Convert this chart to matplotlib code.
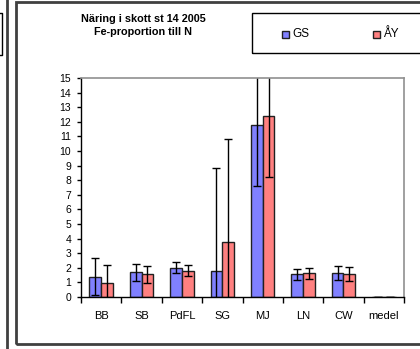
import matplotlib
matplotlib.use("Agg")
import matplotlib.pyplot as plt
from matplotlib.patches import Rectangle
from matplotlib.lines import Line2D
import numpy as np

plt.rcParams['font.family'] = ['Liberation Sans', 'DejaVu Sans']

categories = ["BB", "SB", "PdFL", "SG", "MJ", "LN", "CW", "medel"]
gs_values = [1.40, 1.70, 2.00, 1.78, 11.78, 1.55, 1.64, 0.02]
gs_err = [1.27, 0.57, 0.37, 7.08, 4.18, 0.40, 0.50, 0.0]
ay_values = [0.95, 1.55, 1.80, 3.77, 12.38, 1.62, 1.58, 0.02]
ay_err = [1.25, 0.57, 0.38, 7.05, 4.16, 0.40, 0.48, 0.0]
series_names = ["GS", "ÅY"]
title_lines = ["Näring i skott st 14 2005", "Fe-proportion till N"]

W, H = 420, 349
fig = plt.figure(figsize=(W / 100, H / 100), dpi=100)
fig.patch.set_facecolor("white")

def fx(px):
    return px / W

def fy(py):
    return 1 - py / H

# surrounding frames
frame_col = "#404040"
fig.add_artist(Rectangle((fx(15.5), fy(344)), fx(440 - 15.5), fy(1.5) - fy(344),
                         transform=fig.transFigure, fill=False, ec=frame_col, lw=2))
fig.add_artist(Line2D([fx(6.5), fx(6.5)], [0, 1], transform=fig.transFigure,
                      color=frame_col, lw=2))
fig.add_artist(Line2D([fx(-5), fx(2), fx(2), fx(-5)], [fy(13), fy(13), fy(54.5), fy(54.5)],
                      transform=fig.transFigure, color="black", lw=1))

# plot area
L, T, R, B = 81, 78, 404, 297
ax = fig.add_axes([fx(L), fy(B), fx(R - L), fy(T) - fy(B)])

x = np.arange(len(categories))
w = 0.29
blue = "#8080FF"
red = "#FF8080"
ekw = dict(ecolor="black", elinewidth=1, capsize=3, capthick=1)
ax.bar(x - w / 2, gs_values, w, yerr=gs_err, color=blue, edgecolor="#202020",
       linewidth=1, error_kw=ekw, label=series_names[0])
ax.bar(x + w / 2, ay_values, w, yerr=ay_err, color=red, edgecolor="#202020",
       linewidth=1, error_kw=ekw, label=series_names[1])

ax.set_xlim(-0.5, len(categories) - 0.5)
ax.set_ylim(0, 15)
ax.set_yticks(range(0, 16))
ax.set_xticks(np.arange(-0.5, len(categories)), minor=False)
ax.set_xticklabels([])
ax.set_xticks(x, minor=True)
ax.set_xticklabels(categories, minor=True)
ax.tick_params(axis="x", which="major", direction="out", length=4, width=1, color="black")
ax.tick_params(axis="x", which="minor", length=0, pad=10, labelsize=8)
ax.tick_params(axis="y", direction="out", length=3, width=1, labelsize=7.5, pad=4)

for s in ("top", "right"):
    ax.spines[s].set_color("#909090")
    ax.spines[s].set_linewidth(1.2)
for s in ("left", "bottom"):
    ax.spines[s].set_color("black")
    ax.spines[s].set_linewidth(1)

# titles
fig.text(fx(143), fy(18.5), title_lines[0], ha="center", va="center",
         fontsize=7.8, fontweight="bold")
fig.text(fx(143), fy(32), title_lines[1], ha="center", va="center",
         fontsize=7.8, fontweight="bold")

# legend box
fig.add_artist(Rectangle((fx(251.5), fy(53)), fx(440 - 251.5), fy(12.5) - fy(53),
                         transform=fig.transFigure, fill=False, ec="black", lw=1))
for px, col, name in [(282, blue, series_names[0]), (373, red, series_names[1])]:
    fig.add_artist(Rectangle((fx(px), fy(37.5)), fx(7), fy(30.5) - fy(37.5),
                             transform=fig.transFigure, fc=col, ec="#202020", lw=1))
    fig.text(fx(px + 10), fy(34), name, ha="left", va="center", fontsize=8.5)

fig.savefig("out.png", dpi=100)
